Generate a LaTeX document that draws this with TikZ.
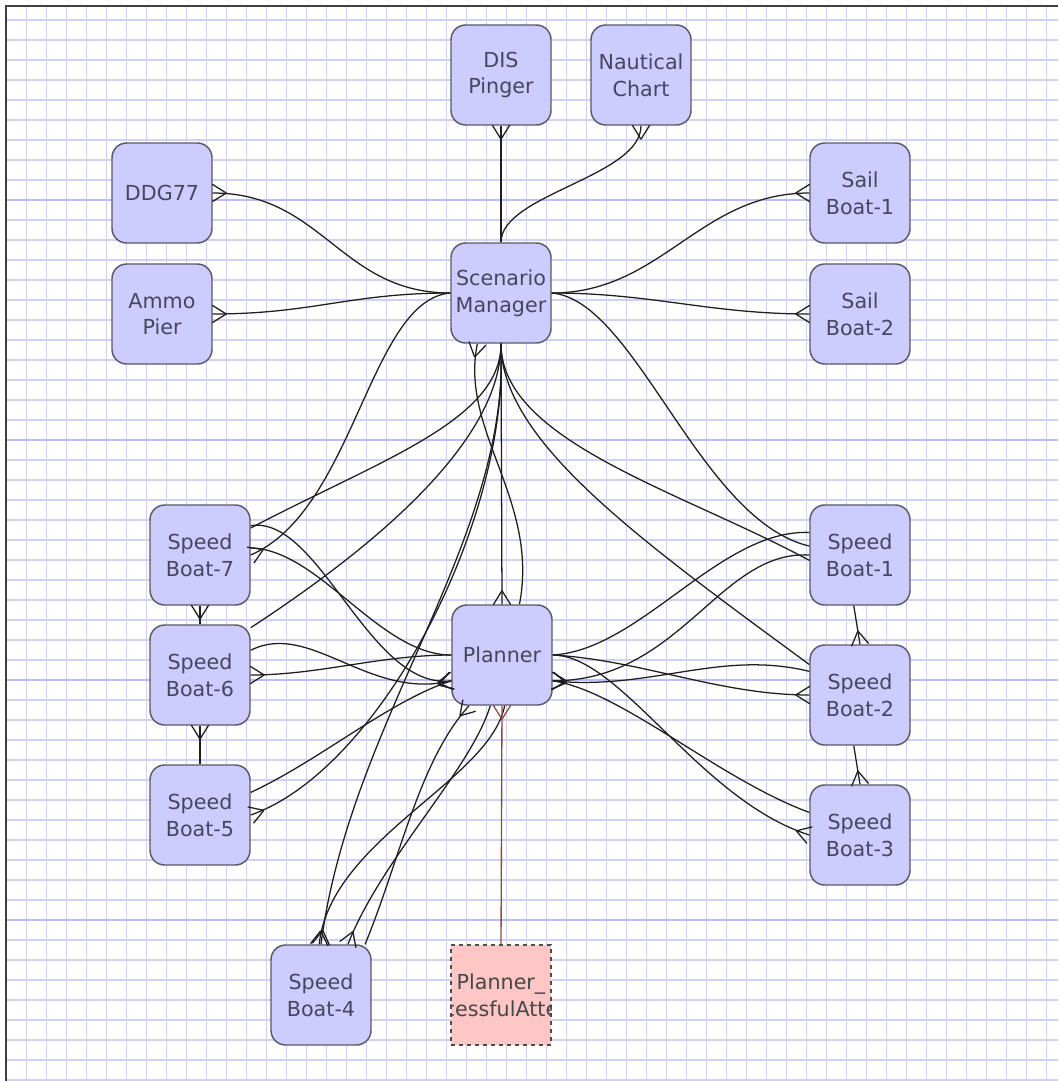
\documentclass[tikz,border=0pt]{standalone}
\usepackage{fontspec}
\setmainfont{DejaVu Sans}
\usetikzlibrary{decorations.markings}
\definecolor{gridc}{RGB}{208,208,246}
\definecolor{gridm}{RGB}{188,188,242}
\definecolor{boxfill}{RGB}{204,204,255}
\definecolor{boxline}{RGB}{90,90,105}
\definecolor{txt}{RGB}{70,70,95}
\definecolor{pinkfill}{RGB}{255,198,198}
\definecolor{brownl}{RGB}{140,75,75}
\definecolor{linec}{RGB}{30,30,30}
\begin{document}
\begin{tikzpicture}[x=0.75pt,y=-0.75pt,
  ent/.style={draw=boxline, line width=1.1pt, fill=boxfill, rounded corners=11pt,
    minimum width=75pt, minimum height=75pt, inner sep=0pt, align=center,
    font=\fontsize{15.5}{20}\selectfont, text=txt},
  conn/.style={draw=linec, line width=0.95pt},
  crow/.style={postaction={decorate, decoration={markings,
    mark=at position 0.999 with {\draw[line width=0.95pt, draw=#1] (-10pt,0) -- (0.5pt,6.5pt) (-10pt,0) -- (0.5pt,-6.5pt);}}}},
  crow/.default=linec
]
\useasboundingbox (0,0) rectangle (1058,1081);
\fill[white] (0,0) rectangle (1058,1081);
% grid
\begin{scope}
\clip (6,6) rectangle (1058,1081);
\foreach \i in {1,...,53} \draw[gridc, line width=0.8pt] ({6.7+20*\i},6) -- ({6.7+20*\i},1081);
\foreach \j in {1,...,54} \draw[gridc, line width=0.8pt] (6,{20*\j}) -- (1058,{20*\j});
\foreach \j in {200,440,680,920} \draw[gridm, line width=1.6pt] (6,\j) -- (1058,\j);
\end{scope}
\draw[black!75, line width=1.2pt] (6,1081) -- (6,6) -- (1058,6);

% nodes
\node[ent] (DIS) at (501,75) {DIS\\Pinger};
\node[ent] (NC) at (641,75) {Nautical\\Chart};
\node[ent] (DDG) at (162,193) {DDG77};
\node[ent] (AP) at (162,314) {Ammo\\Pier};
\node[ent] (SM) at (501,293) {Scenario\\Manager};
\node[ent] (S1) at (860,193) {Sail\\Boat-1};
\node[ent] (S2) at (860,314) {Sail\\Boat-2};
\node[ent] (B7) at (200,555) {Speed\\Boat-7};
\node[ent] (B6) at (200,675) {Speed\\Boat-6};
\node[ent] (B5) at (200,815) {Speed\\Boat-5};
\node[ent] (B4) at (321,995) {Speed\\Boat-4};
\node[ent] (P) at (502,655) {Planner};
\node[ent] (B1) at (860,555) {Speed\\Boat-1};
\node[ent] (B2) at (860,695) {Speed\\Boat-2};
\node[ent] (B3) at (860,835) {Speed\\Boat-3};
\node[draw=black!70, dashed, line width=0.8pt, fill=pinkfill, minimum width=75pt, minimum height=75pt, inner sep=0pt] (PU) at (501,995) {};
\begin{scope}
\clip (PU.south west) rectangle (PU.north east);
\node[align=center, font=\fontsize{15.5}{20}\selectfont, text=black!72] (PUt) at (PU.center) {Planner\_\\cessfulAtte};
\end{scope}

% connectors
\draw[conn,crow] (SM.north) -- (DIS.south);
\draw[conn,crow] (SM.north) .. controls +(0,-48) and +(0,51) .. (NC.south);
\draw[conn,crow] (SM.west) .. controls +(-110,0) and +(110,0) .. (DDG.east);
\draw[conn,crow] (SM.west) .. controls +(-100,0) and +(100,0) .. (AP.east);
\draw[conn,crow] (SM.east) .. controls +(110,0) and +(-110,0) .. (S1.west);
\draw[conn,crow] (SM.east) .. controls +(100,0) and +(-100,0) .. (S2.west);
\draw[conn,crow] (SM.west) .. controls +(-81,7) and +(104,-45) .. (B7.east);
\draw[conn] (SM.east) .. controls +(84,7) and +(-110,-26) .. (B1.170);
\draw[conn] (SM.south) .. controls +(0,97) and +(-130,-70) .. (B1.186);
\draw[conn] (SM.south) .. controls +(0,97) and +(-170,-125) .. (B2.149);
\draw[conn,crow] (SM.south) -- (P.north);
\draw[conn,crow] (P.71) .. controls +(20,-104) and +(-18,87) .. (SM.-115);
\draw[conn] (SM.south) .. controls +(0,77) and +(129,-68) .. (B7.28);
\draw[conn] (SM.south) .. controls +(0,87) and +(150,-98) .. (B6.43);
\draw[conn,crow] (SM.south) .. controls +(9,197) and +(29,-225) .. (B4.north);
\draw[conn,crow] (SM.south) .. controls +(9,177) and +(129,-45) .. (B5.east);
\draw[conn,crow] (B7.30) .. controls +(69,-11) and +(-82,10) .. (P.207);
\draw[conn] (B7.8) .. controls +(69,2) and +(-72,0) .. (P.west);
\draw[conn,crow] (B6.26) .. controls +(59,-30) and +(-82,20) .. (P.207);
\draw[conn,crow] (P.west) .. controls +(-72,0) and +(69,0) .. (B6.east);
\draw[conn,crow] (B5.24) .. controls +(69,-32) and +(-62,20) .. (P.207);
\draw[conn,crow] (B4.49) .. controls +(35,-85) and +(-50,55) .. (P.-123);
\draw[conn,crow] (P.-103) .. controls +(-20,65) and +(33,-85) .. (B4.62);
\draw[conn,crow] (P.-87) .. controls +(-15,75) and +(11,-105) .. (B4.92);
\draw[conn] (P.east) .. controls +(88,-5) and +(-90,-3) .. (B1.156);
\draw[conn,crow] (B1.west) .. controls +(-90,-5) and +(128,0) .. (P.-27);
\draw[conn,crow] (P.east) .. controls +(88,5) and +(-90,0) .. (B2.west);
\draw[conn,crow] (B2.155) .. controls +(-90,-22) and +(98,10) .. (P.-27);
\draw[conn,crow] (P.east) .. controls +(68,0) and +(-110,-35) .. (B3.west);
\draw[conn,crow] (B3.156) .. controls +(-90,-33) and +(68,10) .. (P.-27);
\draw[conn,crow] (B1.-97) -- (B2.north);
\draw[conn,crow] (B2.-97) -- (B3.north);
\draw[conn,crow] (B6.north) -- (B7.south);
\draw[conn,crow] (B5.north) -- (B6.south);
\draw[draw=brownl, line width=1pt, crow=brownl] (PU.north) -- (P.south);
\end{tikzpicture}
\end{document}
